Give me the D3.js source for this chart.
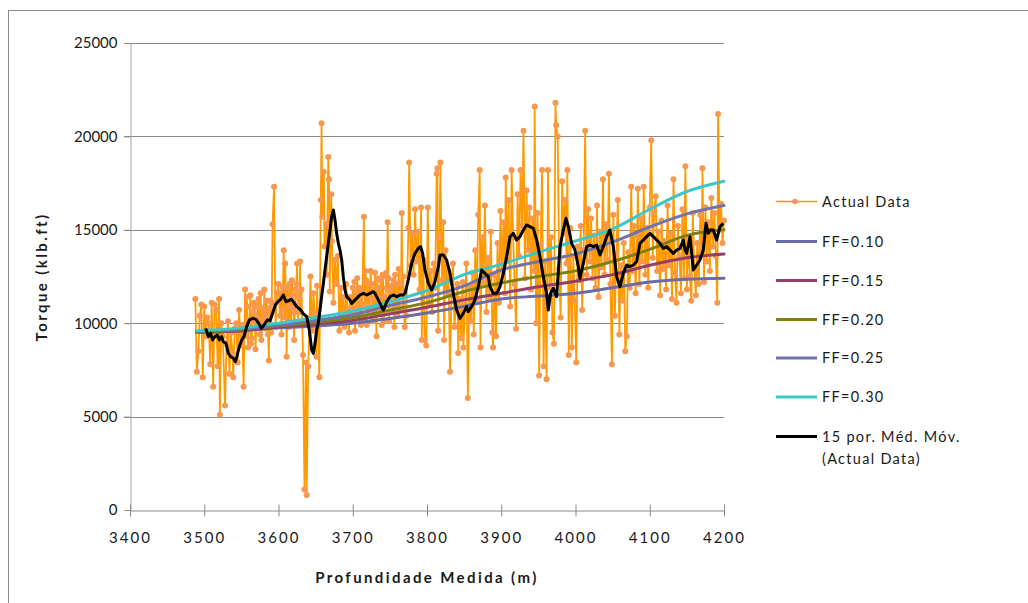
<!DOCTYPE html>
<html>
<head>
<meta charset="utf-8">
<script src="https://cdn.jsdelivr.net/npm/d3@7"></script>
<style>
  body { margin: 0; background: #fff; }
  svg { display: block; }
  text { font-family: Lato, "Open Sans", sans-serif; fill: #1a1a1a; }
</style>
</head>
<body>
<svg id="chart" width="1028" height="603"></svg>
<script>
// Axis ticks
const depthTicks = [3400, 3500, 3600, 3700, 3800, 3900, 4000, 4100, 4200];
const torqueTicks = [0, 5000, 10000, 15000, 20000, 25000];

// Friction-factor model curves (depth m -> torque klb.ft)
const ffDepth = [3490, 3550, 3600, 3650, 3700, 3750, 3800, 3850, 3900, 3950, 4000, 4050, 4100, 4150, 4200];
const ff010 = [9500, 9600, 9750, 9850, 10000, 10250, 10550, 10900, 11300, 11450, 11600, 11900, 12200, 12350, 12400];
const ff015 = [9500, 9600, 9800, 9950, 10150, 10500, 10850, 11250, 11600, 11950, 12250, 12600, 13100, 13500, 13700];
const ff020 = [9500, 9650, 9850, 10050, 10300, 10700, 11100, 11700, 12150, 12500, 12800, 13300, 13950, 14700, 15000];
const ff025 = [9550, 9700, 9900, 10150, 10450, 10950, 11400, 12000, 12850, 13300, 13700, 14350, 15150, 15850, 16300];
const ff030 = [9600, 9750, 10000, 10300, 10650, 11150, 11750, 12600, 13150, 13800, 14400, 15050, 16100, 17050, 17600];

// Measured surface torque readings [depth m, torque klb.ft]
const actualReadings = [
  [3488,11300],[3490,7400],[3492,8500],[3494,10400],[3496,11000],[3498,7100],[3500,10900],[3502,9300],
  [3504,10300],[3506,10000],[3508,7800],[3510,11100],[3512,6600],[3514,11000],[3516,10700],[3518,7700],
  [3520,11300],[3521,5100],[3523,10000],[3525,9300],[3528,5600],[3530,8900],[3532,10100],[3534,7300],
  [3536,9500],[3538,8400],[3539,7100],[3541,9700],[3543,10000],[3545,7900],[3547,10700],[3549,8800],
  [3551,9900],[3553,6600],[3555,11800],[3556,9300],[3557,11400],[3558,10900],[3559,8700],[3560,10200],
  [3561,9600],[3562,11500],[3563,8900],[3564,9200],[3565,10600],[3566,10100],[3567,11100],[3568,10900],
  [3569,8600],[3570,9700],[3571,10400],[3572,10900],[3573,11300],[3574,10200],[3575,9400],[3576,11600],
  [3577,9100],[3578,9900],[3579,10800],[3580,10500],[3581,11800],[3582,10200],[3583,9700],[3584,11200],
  [3585,10500],[3586,9400],[3587,8000],[3588,10800],[3589,11200],[3590,9500],[3591,11100],[3592,15300],
  [3594,17300],[3596,9800],[3598,11600],[3600,12100],[3601,11200],[3602,10400],[3603,11600],[3604,9400],
  [3605,10700],[3606,11900],[3607,13900],[3608,10300],[3609,13200],[3610,11300],[3611,8200],[3612,11900],
  [3613,10900],[3614,9800],[3615,12100],[3616,11400],[3617,10000],[3618,12300],[3619,11500],[3620,10800],
  [3621,9100],[3622,10600],[3623,11800],[3624,12100],[3625,13200],[3626,9900],[3627,11400],[3628,11000],
  [3629,13300],[3630,10600],[3631,11800],[3633,8300],[3635,1100],[3637,7900],[3638,800],[3640,7700],
  [3642,10300],[3643,12500],[3645,9600],[3647,11600],[3649,10500],[3651,8200],[3652,12000],[3655,7100],
  [3657,16600],[3658,20700],[3659,15700],[3661,18100],[3662,14100],[3664,15300],[3665,12600],[3667,18900],
  [3668,17700],[3669,11700],[3671,16900],[3672,14400],[3674,11100],[3676,13400],[3678,12100],[3680,13600],
  [3682,9600],[3684,11900],[3685,10500],[3687,11400],[3689,9800],[3691,12100],[3693,10700],[3695,9500],
  [3696,11400],[3697,10700],[3698,10100],[3699,11100],[3700,11900],[3701,10400],[3702,12200],[3703,9600],
  [3704,10900],[3705,11600],[3706,12400],[3707,10800],[3708,10300],[3709,11900],[3710,11300],[3711,9900],
  [3712,10200],[3713,11700],[3715,15700],[3716,11000],[3717,12800],[3718,12300],[3719,9900],[3720,11500],
  [3721,12100],[3722,10900],[3723,10600],[3724,12800],[3725,12100],[3726,11300],[3727,10100],[3728,10500],
  [3729,11800],[3730,12700],[3731,10800],[3732,9300],[3733,12400],[3734,11400],[3735,11900],[3736,10500],
  [3737,11100],[3738,12300],[3739,9900],[3740,12600],[3741,12500],[3742,10100],[3743,11400],[3744,10600],
  [3745,12700],[3746,11900],[3747,15400],[3748,12400],[3749,10100],[3750,11700],[3751,11200],[3752,12000],
  [3753,11300],[3754,10700],[3755,12300],[3756,9800],[3757,12600],[3758,10900],[3759,12100],[3760,10400],
  [3761,11500],[3762,12900],[3763,10800],[3764,12100],[3765,11600],[3766,15900],[3767,10700],[3768,12500],
  [3769,11100],[3770,9800],[3772,10400],[3775,15100],[3776,18600],[3778,13100],[3780,14800],[3782,12600],
  [3784,16100],[3786,13300],[3788,14900],[3790,11800],[3792,16200],[3793,9100],[3795,13400],[3797,9100],
  [3799,8800],[3801,16200],[3803,11100],[3805,12800],[3807,10600],[3809,13200],[3811,11900],[3813,18000],
  [3814,18300],[3815,9600],[3817,14600],[3818,18600],[3820,12300],[3822,15400],[3823,9100],[3825,13900],
  [3827,11600],[3829,12800],[3831,7400],[3833,11500],[3835,13200],[3837,9800],[3839,10900],[3841,12100],
  [3842,8400],[3844,11300],[3846,9200],[3848,12200],[3849,8700],[3851,10800],[3853,13200],[3855,6000],
  [3857,11900],[3859,10100],[3861,12700],[3863,9400],[3865,13900],[3867,11300],[3869,15800],[3871,18200],
  [3872,8700],[3874,14600],[3876,12200],[3878,16300],[3880,10600],[3882,13500],[3884,11400],[3886,14900],
  [3888,9500],[3889,8700],[3891,12600],[3893,9300],[3895,14300],[3897,11100],[3899,16000],[3901,12800],
  [3903,15400],[3905,11600],[3906,17800],[3908,13400],[3910,16600],[3912,10900],[3914,18200],[3916,14600],
  [3918,12100],[3920,9700],[3922,16900],[3924,13600],[3926,18200],[3928,15200],[3930,20300],[3932,12400],
  [3934,17100],[3936,13900],[3938,16200],[3940,11800],[3942,15600],[3944,12800],[3945,21600],[3947,10000],
  [3949,15900],[3951,7200],[3953,14200],[3955,18200],[3957,7700],[3959,13300],[3961,7000],[3963,18200],
  [3965,11900],[3967,14600],[3969,9500],[3971,8900],[3973,21800],[3974,20600],[3976,20000],[3978,12900],
  [3980,10300],[3982,17600],[3984,14800],[3986,16600],[3988,13200],[3989,18200],[3991,8300],[3993,15100],
  [3995,8700],[3997,13600],[3999,11200],[4001,7900],[4003,14100],[4005,12300],[4007,15200],[4009,10700],
  [4011,13900],[4013,20300],[4015,12600],[4017,16100],[4019,13300],[4021,15600],[4023,12400],[4025,14700],
  [4027,11900],[4029,16300],[4031,11400],[4033,14900],[4035,13000],[4037,17700],[4039,12600],[4041,15300],
  [4043,13400],[4045,18000],[4047,12100],[4049,7800],[4051,15800],[4053,10400],[4055,13700],[4057,16600],
  [4059,9400],[4061,13100],[4063,11200],[4065,14300],[4067,8500],[4069,9300],[4071,13800],[4073,11900],
  [4075,17300],[4077,12800],[4079,15200],[4081,11600],[4083,14700],[4084,17200],[4086,12100],[4088,15600],
  [4090,13300],[4092,17300],[4094,12600],[4096,15100],[4098,11900],[4100,16200],[4102,19800],[4104,13500],
  [4106,15900],[4108,16800],[4110,12800],[4112,14900],[4114,11500],[4116,15500],[4118,12900],[4120,14400],
  [4122,11800],[4124,16300],[4126,13100],[4128,14800],[4130,11300],[4132,17700],[4134,12700],[4136,11100],
  [4138,15200],[4140,13600],[4142,11600],[4144,16100],[4146,12400],[4148,18400],[4150,11800],[4152,14600],
  [4154,12500],[4156,11200],[4158,15900],[4160,13000],[4162,11500],[4164,14300],[4166,12100],[4168,15800],
  [4170,13900],[4171,18300],[4173,12200],[4175,16200],[4177,13300],[4179,15400],[4181,12800],[4183,16700],
  [4185,14100],[4187,15900],[4189,13600],[4191,11100],[4192,21200],[4194,15000],[4196,16400],[4198,14300],
  [4200,15500]
];

// 15-point moving average of the readings [depth m, torque klb.ft]
const movingAvg = [
  [3502,9725],[3505.5,9279],[3508.6,9458],[3511.3,9101],[3514.5,9279],[3517.6,9368],[3520.3,9101],
  [3523.4,9279],[3525.7,9012],[3529.3,8922],[3532.4,8387],[3535.6,8208],[3539.2,8119],[3541.9,7941],
  [3544.5,8298],[3547.2,8744],[3550.4,9101],[3553.5,9279],[3557.1,9814],[3560.7,10171],[3565.2,10260],
  [3569.7,10207],[3573.3,9993],[3576.9,9725],[3580.5,9904],[3585,10171],[3588.5,10136],[3592.1,10528],
  [3595.7,10974],[3599.3,11153],[3602.9,11278],[3606.5,11510],[3610.1,11153],[3613.7,11206],[3617.3,11278],
  [3620.9,11099],[3624.4,10885],[3629,10750],[3633.5,10500],[3638,10350],[3641.5,9636],[3644.7,8565],
  [3647,8387],[3649.2,8922],[3651.4,9636],[3653.6,9993],[3655.9,10707],[3658.1,11420],[3660.4,12134],
  [3662.6,12848],[3664.9,13562],[3667.1,14276],[3669.4,14989],[3671.6,15703],[3673.9,16060],[3676.1,15525],
  [3678.3,14811],[3680.6,14276],[3682.8,13919],[3685.1,13383],[3687.3,12491],[3689.6,11777],[3691.8,11420],
  [3696.3,11242],[3698.5,11064],[3700.8,11153],[3703,11242],[3707.5,11420],[3709.8,11510],[3714.3,11599],
  [3718.7,11510],[3723.2,11599],[3727.7,11688],[3730,11599],[3732.2,11420],[3736.7,11064],[3741.2,10707],
  [3743.4,10885],[3745.7,11153],[3750.2,11420],[3754.7,11510],[3759.1,11420],[3763.6,11510],[3768.1,11510],
  [3770.4,11599],[3774.8,12313],[3779.3,13205],[3783.8,13740],[3788.3,14008],[3791.4,14097],[3794.1,13740],
  [3797.3,12848],[3801.8,12134],[3806.3,11777],[3810.8,12223],[3815.3,13026],[3817.5,13651],[3822,13651],
  [3826.5,13383],[3831,12669],[3835.4,11599],[3839.9,10707],[3844.4,10261],[3848.9,10528],[3853.4,10885],
  [3855.6,10617],[3860.1,10885],[3864.6,11242],[3869.1,11956],[3873.6,12848],[3878.1,12669],[3882.6,12491],
  [3884.8,11956],[3889.3,11599],[3893.8,11599],[3898.3,11956],[3902.8,12669],[3907.3,13562],[3911.8,14632],
  [3916.2,14811],[3920.7,14454],[3925.2,14632],[3929.7,14989],[3934.2,15257],[3938.7,15168],[3943.2,15078],
  [3947.7,14454],[3952.2,13562],[3956.6,12491],[3961.1,11599],[3963.4,10707],[3966.5,11599],[3970.1,11867],
  [3974.6,11420],[3979.1,14097],[3983.6,14989],[3987.2,15614],[3990.3,15168],[3994.8,14276],[3999.3,13919],
  [4003.8,13026],[4006,12402],[4010.5,13205],[4015,14097],[4019.5,14186],[4024,14097],[4028.5,14186],
  [4033,13651],[4037.4,14097],[4041.9,14632],[4046.4,14989],[4050.9,14097],[4055.4,12491],[4059.9,11956],
  [4064.4,12669],[4068.9,13116],[4073.4,13026],[4077.9,13116],[4082.3,13294],[4086.8,14276],[4091.3,14454],
  [4095.8,14632],[4100.3,14811],[4104.8,14632],[4109.3,14454],[4113.8,14276],[4118.3,14008],[4122.8,14097],
  [4127.2,13919],[4131.7,13740],[4136.2,13919],[4140.7,14008],[4145.2,14454],[4147.4,13919],[4149.7,13740],
  [4154.2,14632],[4158.7,12848],[4163.2,13116],[4167.6,13383],[4172.1,13919],[4175.7,15346],[4178.9,14811],
  [4181.1,14989],[4185.6,14989],[4190.1,14454],[4194.6,15168],[4199.1,15346]
];

const legendLabels = ["Actual Data", "FF=0.10", "FF=0.15", "FF=0.20", "FF=0.25", "FF=0.30", "15 por. Méd. Móv.", "(Actual Data)"];

const COLORS = {
  actual: "#FF9900", marker: "#F8984F",
  ff010: "#6A6CA8", ff015: "#943E6A", ff020: "#808012", ff025: "#7273AB", ff030: "#3CC8C8",
  ma: "#000000", grid: "#8a8a8a", axis: "#a6a6a6"
};

const svg = d3.select("#chart");
const x = d3.scaleLinear().domain([3400, 4200]).range([130, 724]);
const y = d3.scaleLinear().domain([0, 25000]).range([510, 43]);

// Outer chart frame
svg.append("rect")
  .attr("x", 8.5).attr("y", 10.5).attr("width", 1100).attr("height", 700)
  .attr("fill", "none").attr("stroke", "#8c8c8c").attr("stroke-width", 1);

// Horizontal gridlines
svg.append("g").selectAll("line")
  .data(torqueTicks.filter(t => t > 0))
  .join("line")
  .attr("x1", 124).attr("x2", x(4200))
  .attr("y1", d => Math.round(y(d)) + 0.5).attr("y2", d => Math.round(y(d)) + 0.5)
  .attr("stroke", COLORS.grid).attr("stroke-width", 1);

// Y axis
const yAxis = svg.append("g")
  .attr("transform", "translate(130.5,0)")
  .call(d3.axisLeft(y).tickValues(torqueTicks).tickSize(6).tickSizeOuter(0).tickPadding(7).tickFormat(d3.format("d")));
yAxis.select(".domain").attr("stroke", COLORS.axis);
yAxis.selectAll(".tick line").attr("stroke", COLORS.grid);
yAxis.selectAll(".tick text").style("font-size", "15px").attr("fill", "#1a1a1a");

// X axis (cross tick marks)
const xAxis = svg.append("g")
  .attr("transform", "translate(0,510.5)")
  .call(d3.axisBottom(x).tickValues(depthTicks).tickSizeOuter(0).tickFormat(d3.format("d")));
xAxis.select(".domain").attr("stroke", COLORS.grid);
xAxis.selectAll(".tick line").attr("y1", -6).attr("y2", 6).attr("stroke", COLORS.grid);
xAxis.selectAll(".tick text")
  .attr("y", 22).attr("dy", "0.71em")
  .style("font-size", "15px").style("letter-spacing", "2px").attr("fill", "#1a1a1a");

// Axis titles
svg.append("text")
  .attr("transform", "translate(47,277) rotate(-90)")
  .attr("text-anchor", "middle")
  .style("font-size", "15px").style("font-weight", "bold").style("letter-spacing", "2.4px")
  .text("Torque (klb.ft)");
svg.append("text")
  .attr("x", 427).attr("y", 583)
  .attr("text-anchor", "middle")
  .style("font-size", "15px").style("font-weight", "bold").style("letter-spacing", "2.4px")
  .text("Profundidade Medida (m)");

// Actual data: line with markers
const lineXY = d3.line().x(d => x(d[0])).y(d => y(d[1]));
svg.append("path")
  .datum(actualReadings)
  .attr("d", lineXY)
  .attr("fill", "none").attr("stroke", COLORS.actual).attr("stroke-width", 1.8)
  .attr("stroke-linejoin", "round");
svg.append("g").selectAll("circle")
  .data(actualReadings)
  .join("circle")
  .attr("cx", d => x(d[0])).attr("cy", d => y(d[1])).attr("r", 3)
  .attr("fill", COLORS.marker);

// Friction-factor curves
const ffSeries = [
  { values: ff010, color: COLORS.ff010 },
  { values: ff015, color: COLORS.ff015 },
  { values: ff020, color: COLORS.ff020 },
  { values: ff025, color: COLORS.ff025 },
  { values: ff030, color: COLORS.ff030 }
];
const ffLine = d3.line()
  .x((d, i) => x(ffDepth[i]))
  .y(d => y(d))
  .curve(d3.curveMonotoneX);
svg.append("g").selectAll("path")
  .data(ffSeries)
  .join("path")
  .attr("d", s => ffLine(s.values))
  .attr("fill", "none").attr("stroke", s => s.color).attr("stroke-width", 3)
  .attr("stroke-linecap", "round");

// Moving average
svg.append("path")
  .datum(movingAvg)
  .attr("d", lineXY)
  .attr("fill", "none").attr("stroke", COLORS.ma).attr("stroke-width", 3)
  .attr("stroke-linejoin", "round");

// Legend
const legend = svg.append("g");
const rows = [
  { label: legendLabels[0], color: COLORS.actual, y: 201.5, marker: true },
  { label: legendLabels[1], color: COLORS.ff010, y: 241.5 },
  { label: legendLabels[2], color: COLORS.ff015, y: 280.5 },
  { label: legendLabels[3], color: COLORS.ff020, y: 319.5 },
  { label: legendLabels[4], color: COLORS.ff025, y: 358 },
  { label: legendLabels[5], color: COLORS.ff030, y: 397 },
  { label: legendLabels[6], color: COLORS.ma, y: 436.5 }
];
rows.forEach(r => {
  legend.append("line")
    .attr("x1", 776).attr("x2", 817).attr("y1", r.y).attr("y2", r.y)
    .attr("stroke", r.color).attr("stroke-width", r.marker ? 1.6 : 3);
  if (r.marker) {
    legend.append("circle").attr("cx", 795).attr("cy", r.y).attr("r", 2.8).attr("fill", COLORS.marker);
  }
  legend.append("text")
    .attr("x", 822).attr("y", r.y).attr("dy", "0.35em")
    .style("font-size", "14.5px").style("letter-spacing", "1.3px")
    .text(r.label);
});
legend.append("text")
  .attr("x", 822).attr("y", 459).attr("dy", "0.35em")
  .style("font-size", "14.5px").style("letter-spacing", "1.3px")
  .text(legendLabels[7]);
</script>
</body>
</html>
